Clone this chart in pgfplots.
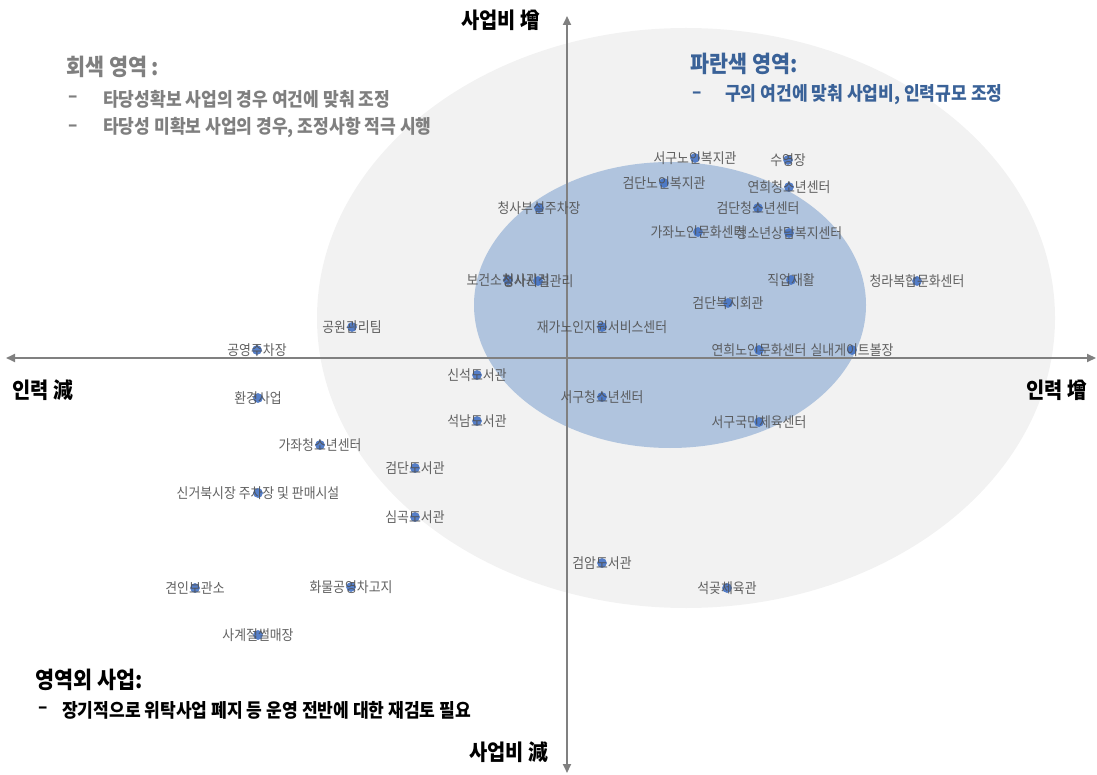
\documentclass[border=0pt]{standalone}
\usepackage{pgfplots}
\pgfplotsset{compat=1.18}
\usepackage{fontspec}
\usetikzlibrary{arrows.meta}
\newfontfamily\kr[FakeStretch=0.9]{Noto Sans CJK KR}
\definecolor{ellgray}{HTML}{F2F2F2}
\definecolor{ellblue}{HTML}{B0C4DE}
\definecolor{markblue}{HTML}{4472C4}
\definecolor{labgray}{HTML}{505050}
\definecolor{titlegray}{HTML}{7F7F7F}
\definecolor{titleblue}{HTML}{3A6298}
\definecolor{axisgray}{HTML}{808080}

\begin{document}
\begin{tikzpicture}
\begin{axis}[
  width=1097pt, height=775pt, scale only axis,
  xmin=0, xmax=1097, ymin=0, ymax=775,
  y dir=reverse,
  hide axis, clip=false,
]
  % areas
  \fill[ellgray] (axis cs:686,318) ellipse [x radius=369pt, y radius=290pt];
  \fill[ellblue] (axis cs:670,305) ellipse [x radius=196pt, y radius=143pt];

  % axes with arrows both ways
  \draw[axisgray, line width=2pt, {Triangle[length=9pt,width=8pt]}-{Triangle[length=9pt,width=8pt]}]
    (axis cs:6,358) -- (axis cs:1096,358);
  \draw[axisgray, line width=2pt, {Triangle[length=9pt,width=8pt]}-{Triangle[length=9pt,width=8pt]}]
    (axis cs:567,16) -- (axis cs:567,773);

  % projects (pixel positions)
  \addplot[only marks, mark=*, mark size=4.6pt,
    mark options={fill=markblue, draw=markblue, fill opacity=0.9, draw opacity=0.9},
    point meta=explicit symbolic,
    nodes near coords,
    nodes near coords style={anchor=center, inner sep=0pt,
      font=\kr\fontsize{14.3}{15}\selectfont, text=labgray},
  ] coordinates {
    (695,158) [서구노인복지관]
    (788,160) [수영장]
    (664,183) [검단노인복지관]
    (789,187) [연희청소년센터]
    (539,208) [청사부설주차장]
    (758,208) [검단청소년센터]
    (698,232) [가좌노인문화센터]
    (789,233) [청소년상담복지센터]
    (508,280) [보건소청사관리]
    (538,281) [청사시설관리]
    (791,280) [직업재활]
    (917,281) [청라복합문화센터]
    (728,303) [검단복지회관]
    (602,327) [재가노인지원서비스센터]
    (759,350) [연희노인문화센터]
    (852,350) [실내게이트볼장]
    (352,327) [공원관리팀]
    (257,350) [공영주차장]
    (477,375) [신석도서관]
    (258,398) [환경사업]
    (477,421) [석남도서관]
    (320,445) [가좌청소년센터]
    (415,468) [검단도서관]
    (258,493) [신거북시장 주차장 및 판매시설]
    (415,517) [심곡도서관]
    (195,588) [견인보관소]
    (351,587) [화물공영차고지]
    (258,635) [사계절썰매장]
    (602,397) [서구청소년센터]
    (759,422) [서구국민체육센터]
    (602,563) [검암도서관]
    (727,588) [석곶체육관]
  };

  % axis captions
  \node[font=\kr\bfseries\fontsize{22}{23}\selectfont] at (axis cs:501,20) {사업비 增};
  \node[font=\kr\bfseries\fontsize{22}{23}\selectfont] at (axis cs:509,752) {사업비 減};
  \node[font=\kr\bfseries\fontsize{22}{23}\selectfont] at (axis cs:43,390) {인력 減};
  \node[font=\kr\bfseries\fontsize{22}{23}\selectfont] at (axis cs:1057,390) {인력 增};

  % gray area note
  \node[anchor=west, inner sep=0pt, text=titlegray, font=\kr\bfseries\fontsize{23}{24}\selectfont]
    at (axis cs:66,67) {회색 영역 :};
  \node[anchor=west, inner sep=0pt, text=titlegray, font=\kr\bfseries\fontsize{19}{20}\selectfont]
    at (axis cs:68,99) {–};
  \node[anchor=west, inner sep=0pt, text=titlegray, font=\kr\bfseries\fontsize{19}{20}\selectfont]
    at (axis cs:103,99) {타당성확보 사업의 경우 여건에 맞춰 조정};
  \node[anchor=west, inner sep=0pt, text=titlegray, font=\kr\bfseries\fontsize{19}{20}\selectfont]
    at (axis cs:68,128) {–};
  \node[anchor=west, inner sep=0pt, text=titlegray, font=\kr\bfseries\fontsize{19}{20}\selectfont]
    at (axis cs:103,128) {타당성 미확보 사업의 경우, 조정사항 적극 시행};

  % blue area note
  \node[anchor=west, inner sep=0pt, text=titleblue, font=\kr\bfseries\fontsize{23}{24}\selectfont]
    at (axis cs:690,64) {파란색 영역:};
  \node[anchor=west, inner sep=0pt, text=titleblue, font=\kr\bfseries\fontsize{19}{20}\selectfont]
    at (axis cs:692,95) {–};
  \node[anchor=west, inner sep=0pt, text=titleblue, font=\kr\bfseries\fontsize{19}{20}\selectfont]
    at (axis cs:725,95) {구의 여건에 맞춰 사업비, 인력규모 조정};

  % outside note
  \node[anchor=west, inner sep=0pt, text=black, font=\kr\bfseries\fontsize{23}{24}\selectfont]
    at (axis cs:35,680) {영역외 사업:};
  \node[anchor=west, inner sep=0pt, text=black, font=\kr\bfseries\fontsize{19}{20}\selectfont]
    at (axis cs:38,710) {–};
  \node[anchor=west, inner sep=0pt, text=black, font=\kr\bfseries\fontsize{19}{20}\selectfont]
    at (axis cs:62,710) {장기적으로 위탁사업 폐지 등 운영 전반에 대한 재검토 필요};
\end{axis}
\pgfresetboundingbox
\path (0,0) rectangle (1097pt,775pt);
\end{tikzpicture}
\end{document}
